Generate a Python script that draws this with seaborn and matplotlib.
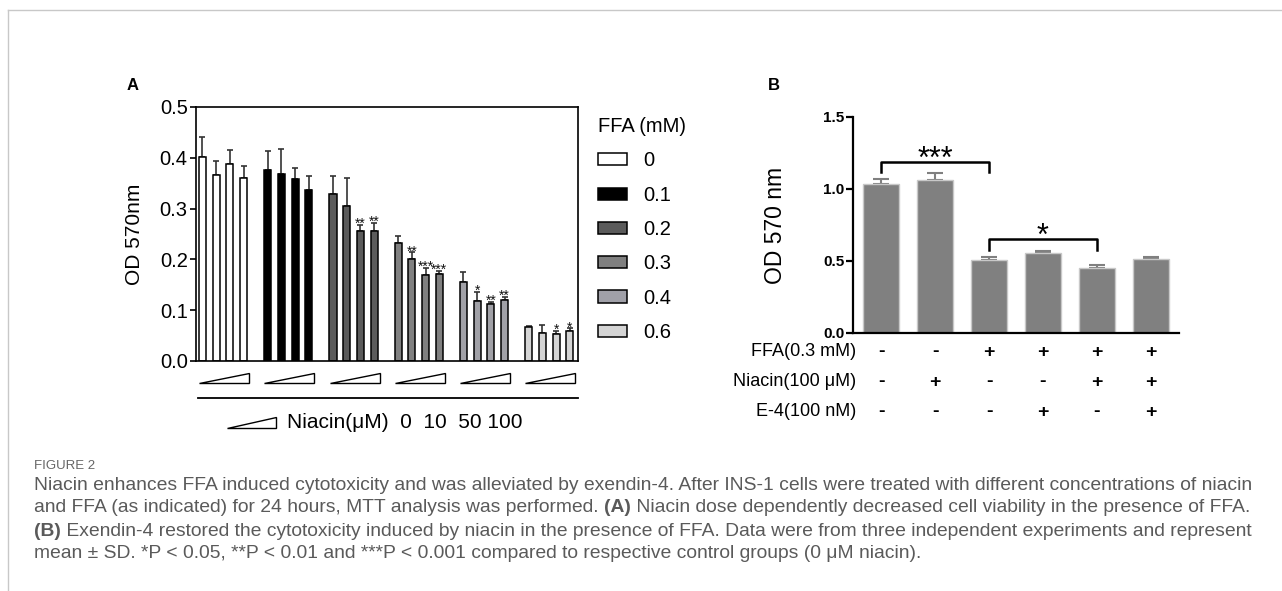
import matplotlib.pyplot as plt
import seaborn as sns
import pandas as pd
import numpy as np
from matplotlib.patches import Polygon, Patch
from matplotlib.lines import Line2D
from matplotlib.transforms import ScaledTranslation

# Panel A data: OD 570nm for each FFA dose x niacin dose
ffa_levels = ['0', '0.1', '0.2', '0.3', '0.4', '0.6']
niacin_doses = [0, 10, 50, 100]
od_mean_a = [[0.402, 0.367, 0.388, 0.361],
             [0.376, 0.369, 0.359, 0.336],
             [0.329, 0.305, 0.256, 0.256],
             [0.232, 0.200, 0.170, 0.172],
             [0.155, 0.119, 0.113, 0.121],
             [0.066, 0.056, 0.054, 0.060]]
od_sd_a = [[0.038, 0.027, 0.028, 0.022],
           [0.038, 0.048, 0.021, 0.029],
           [0.035, 0.055, 0.012, 0.016],
           [0.015, 0.014, 0.013, 0.006],
           [0.020, 0.017, 0.004, 0.005],
           [0.003, 0.015, 0.005, 0.004]]
stars_a = [['', '', '', ''],
           ['', '', '', ''],
           ['', '', '**', '**'],
           ['', '**', '***', '***'],
           ['', '*', '**', '**'],
           ['', '', '*', '*']]
ffa_colors = ['#ffffff', '#000000', '#5b5b5b', '#808080', '#a0a0a8', '#d4d4d4']

# Panel B data
conditions = ['c1', 'c2', 'c3', 'c4', 'c5', 'c6']
od_mean_b = [1.036, 1.063, 0.508, 0.553, 0.453, 0.514]
od_sd_b = [0.034, 0.046, 0.022, 0.016, 0.019, 0.016]
ffa_signs = ['-', '-', '+', '+', '+', '+']
niacin_signs = ['-', '+', '-', '-', '+', '+']
e4_signs = ['-', '-', '-', '+', '-', '+']

plt.rcParams['font.family'] = ['Liberation Sans', 'DejaVu Sans']

fig = plt.figure(figsize=(12.82, 5.91), dpi=100)
W, H = 1282, 591

def fx(px):
    return px / W

def fy(py):
    return 1 - py / H

# ---------- Panel A ----------
group_pitch = 4.76
rows = []
for g, lvl in enumerate(ffa_levels):
    for i, d in enumerate(niacin_doses):
        rows.append({'pos': g * group_pitch + i, 'ffa': lvl, 'dose': d,
                     'od': od_mean_a[g][i], 'sd': od_sd_a[g][i], 'star': stars_a[g][i]})
df_a = pd.DataFrame(rows)

axA = fig.add_axes([fx(196), fy(361), fx(578 - 196), (361 - 107) / H])
axA.errorbar(df_a['pos'], df_a['od'], yerr=[np.zeros(len(df_a)), df_a['sd']],
             fmt='none', ecolor='#333333', elinewidth=1.2, capsize=2.2, capthick=1.2, zorder=1)
sns.barplot(data=df_a, x='pos', y='od', hue='ffa', palette=dict(zip(ffa_levels, ffa_colors)),
            native_scale=True, dodge=False, width=0.52, edgecolor='black', linewidth=1.1,
            legend=False, ax=axA, zorder=2)
for _, r in df_a.iterrows():
    if r['star']:
        axA.text(r['pos'], r['od'] + r['sd'] - 0.006, r['star'], ha='center', va='baseline',
                 fontsize=10, color='#111111')
axA.set_xlim(-0.474, 27.4)
axA.set_ylim(0, 0.5)
axA.set_yticks([0.0, 0.1, 0.2, 0.3, 0.4, 0.5])
axA.set_yticklabels(['0.0', '0.1', '0.2', '0.3', '0.4', '0.5'], fontsize=14.5)
axA.set_xticks([])
axA.set_xlabel('')
axA.set_ylabel('OD 570nm', fontsize=15, labelpad=11)
axA.tick_params(axis='y', length=4, width=1.2, direction='out', pad=2)
for s in axA.spines.values():
    s.set_linewidth(1.2)

# niacin triangles under each group
tr = axA.get_xaxis_transform()
for g in range(len(ffa_levels)):
    x0 = g * group_pitch - 0.25
    x1 = g * group_pitch + 3.4
    axA.add_patch(Polygon([[x0, -0.087], [x1, -0.087], [x1, -0.047]], closed=True,
                          facecolor='white', edgecolor='black', linewidth=1.0,
                          transform=tr, clip_on=False))
axA.plot([-0.33, 27.4], [-0.146, -0.146], color='black', lw=1.3, transform=tr, clip_on=False)
fig.add_artist(Polygon([[fx(227), fy(428)], [fx(276), fy(428)], [fx(276), fy(417)]], closed=True,
                       facecolor='white', edgecolor='black', linewidth=1.0, transform=fig.transFigure))
fig.text(fx(287), fy(423), 'Niacin(\u03bcM)  0  10  50 100', fontsize=15, va='center', ha='left')

handles = [Patch(facecolor=c, edgecolor='black', linewidth=1.1, label=l)
           for l, c in zip(ffa_levels, ffa_colors)]
leg = fig.legend(handles=handles, title='FFA (mM)', loc='upper left',
                 bbox_to_anchor=(fx(580), fy(99)), frameon=False, fontsize=14.5,
                 title_fontsize=14.5, handlelength=1.45, handleheight=0.55,
                 handletextpad=0.8, labelspacing=0.76, alignment='left')

fig.text(fx(127), fy(86), 'A', fontsize=12, fontweight='bold', va='center')

# ---------- Panel B ----------
df_b = pd.DataFrame({'cond': conditions, 'od': od_mean_b, 'sd': od_sd_b})
axB = fig.add_axes([fx(853), fy(333), fx(1179 - 853), (333 - 117) / H])
axB.errorbar(range(len(conditions)), df_b['od'], yerr=[np.zeros(len(df_b)), df_b['sd']],
             fmt='none', ecolor='#808080', elinewidth=1.5, capsize=5.5, capthick=1.5, zorder=1)
sns.barplot(data=df_b, x='cond', y='od', color='#808080', width=0.667, saturation=1,
            edgecolor='#c8c8c8', linewidth=1.0, ax=axB, zorder=2)
axB.set_xlim(-0.52, 5.52)
axB.set_ylim(0, 1.5)
axB.set_yticks([0.0, 0.5, 1.0, 1.5])
axB.set_yticklabels(['0.0', '0.5', '1.0', '1.5'], fontsize=11, fontweight='bold')
axB.set_xticks([])
axB.set_xlabel('')
axB.set_ylabel('OD 570 nm', fontsize=16.5, labelpad=26)
axB.tick_params(axis='y', length=5, width=1.6, direction='out', pad=1)
for s in ['top', 'right']:
    axB.spines[s].set_visible(False)
for s in ['left', 'bottom']:
    axB.spines[s].set_linewidth(1.6)

# significance brackets
def bracket(ax, x0, x1, y, drop, label, label_y):
    ax.plot([x0, x0, x1, x1], [y - drop, y, y, y - drop], color='black', lw=1.8, clip_on=False)
    ax.text((x0 + x1) / 2, label_y, label, ha='center', va='baseline', fontsize=22)

bracket(axB, 0, 2, 1.19, 0.075, '***', 1.146)
bracket(axB, 2, 4, 0.652, 0.075, '*', 0.611)

# +/- table under panel B
row_y = [352, 382, 412]
row_labels = ['FFA(0.3 mM)', 'Niacin(100 \u03bcM)', 'E-4(100 nM)']
for py, lab, signs in zip(row_y, row_labels, [ffa_signs, niacin_signs, e4_signs]):
    fig.text(fx(856), fy(py), lab, fontsize=13, ha='right', va='center')
    for i, s in enumerate(signs):
        axB.text(i, 0, s, fontsize=14, fontweight='bold', ha='center', va='center',
                 transform=axB.get_xaxis_transform() + ScaledTranslation(
                     0, -(py - 333) / 100, fig.dpi_scale_trans))

fig.text(fx(768), fy(86), 'B', fontsize=12, fontweight='bold', va='center')

# ---------- frame and caption ----------
fig.add_artist(Line2D([fx(8), 1.0], [fy(10), fy(10)], color='#c8c8c8', lw=1, transform=fig.transFigure))
fig.add_artist(Line2D([fx(8), fx(8)], [fy(10), 0], color='#c8c8c8', lw=1, transform=fig.transFigure))

fig.text(fx(34), fy(466), 'FIGURE 2', fontsize=9.5, color='#666666', va='center')
cap_lines = [
    [('Niacin enhances FFA induced cytotoxicity and was alleviated by exendin-4. After INS-1 cells were treated with different concentrations of niacin', 'normal')],
    [('and FFA (as indicated) for 24 hours, MTT analysis was performed. ', 'normal'), ('(A)', 'bold'),
     (' Niacin dose dependently decreased cell viability in the presence of FFA.', 'normal')],
    [('(B)', 'bold'), (' Exendin-4 restored the cytotoxicity induced by niacin in the presence of FFA. Data were from three independent experiments and represent', 'normal')],
    [('mean \u00b1 SD. *P < 0.05, **P < 0.01 and ***P < 0.001 compared to respective control groups (0 \u03bcM niacin).', 'normal')],
]
renderer = fig.canvas.get_renderer()
for k, segs in enumerate(cap_lines):
    x = fx(34)
    for txt, wt in segs:
        t = fig.text(x, fy(485 + 23 * k), txt, fontsize=13.85, color='#5a5a5a', va='center',
                     fontweight=wt)
        bb = t.get_window_extent(renderer=renderer)
        x = x + bb.width / W

fig.savefig('out.png', dpi=100)
